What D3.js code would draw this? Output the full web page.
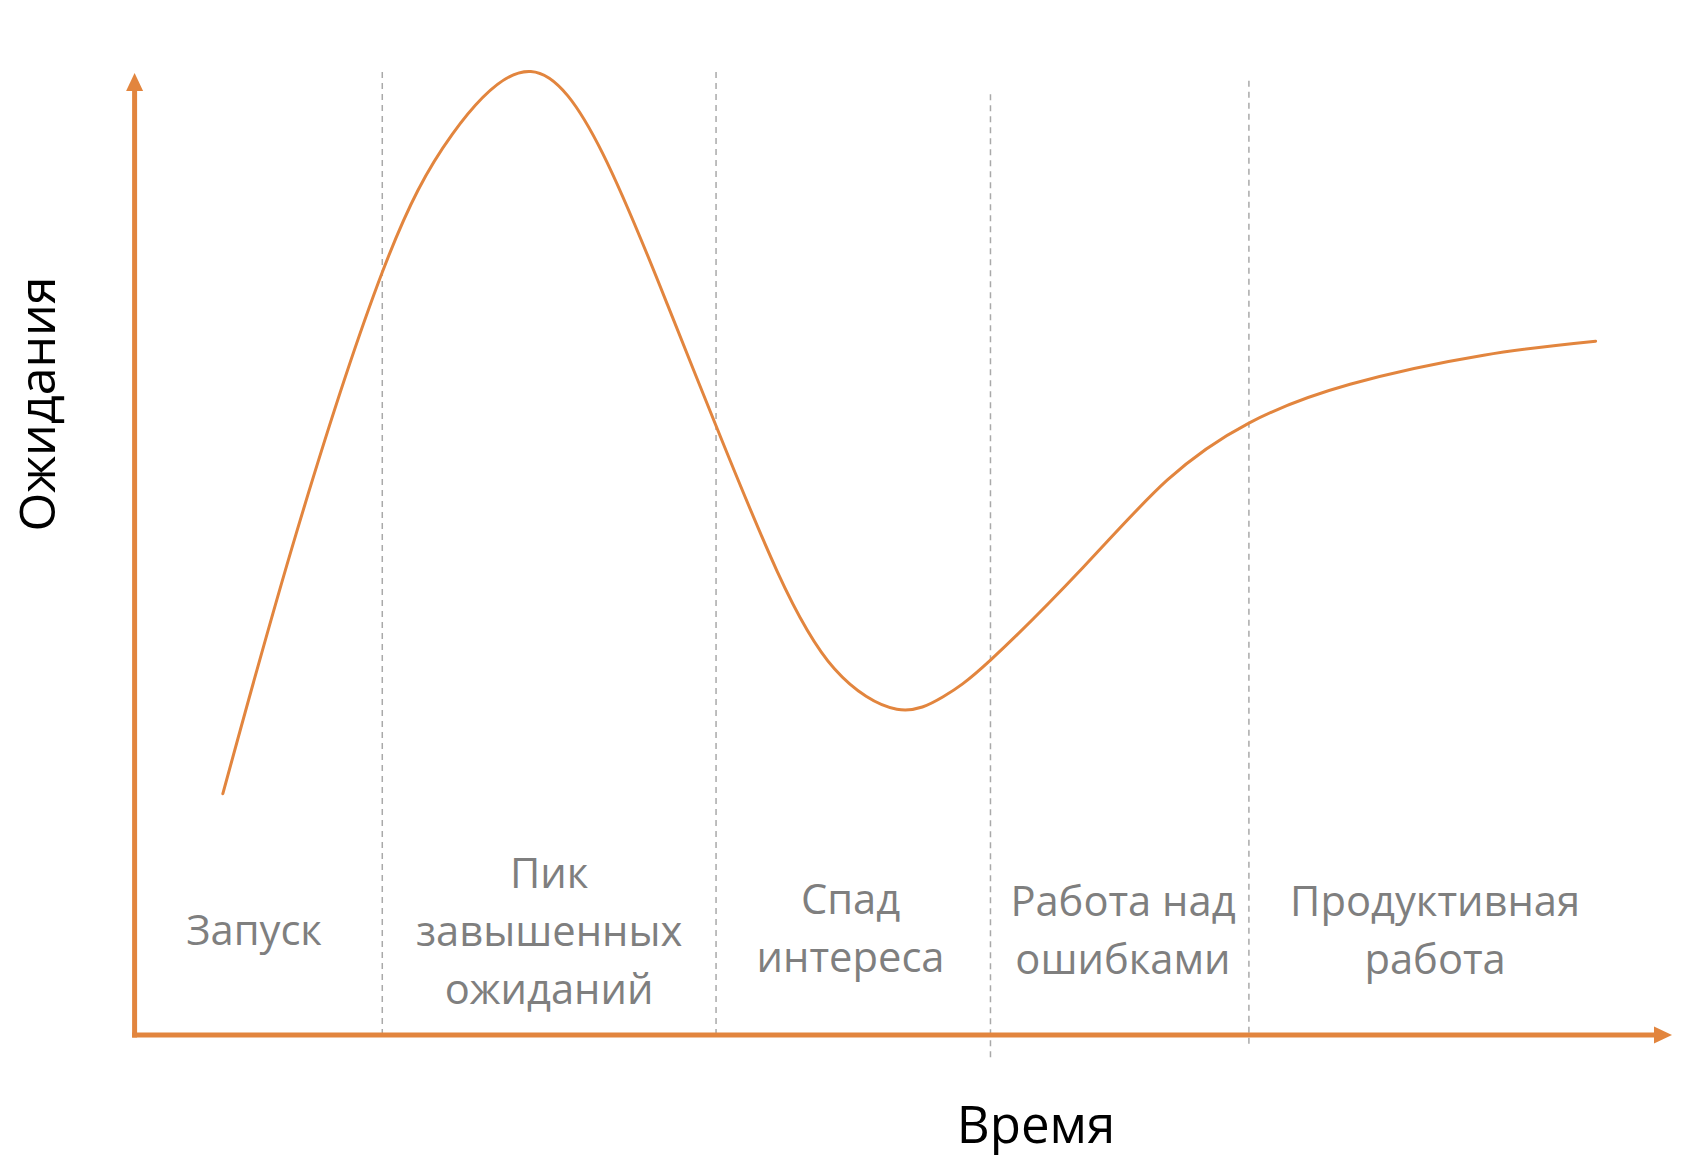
<!DOCTYPE html>
<html>
<head>
<meta charset="utf-8">
<script src="https://cdn.jsdelivr.net/npm/d3@7/dist/d3.min.js"></script>
<style>
  html, body { margin: 0; padding: 0; background: #ffffff; }
  svg { display: block; }
</style>
</head>
<body>
<svg id="chart" width="1688" height="1174"></svg>
<script>
// ---- Data (time 0–100 along the x arrow, expectations 0–100 up the y arrow) ----
const curveTime = [5.74, 10.50, 16.11, 20.66, 25.77, 30.46, 34.66, 37.89, 41.81, 45.52, 49.58, 52.59, 55.67, 61.69, 67.16, 72.48, 79.06, 87.75, 95.03];
const curveExpectation = [25.08, 52.07, 79.28, 93.62, 100.16, 91.60, 75.92, 63.05, 48.15, 38.07, 33.87, 35.16, 38.97, 48.60, 57.67, 63.61, 67.64, 70.66, 72.12];

const phaseBoundaries = [16.11, 37.82, 55.67, 72.48];
const boundaryTop = [100.1, 100.1, 97.8, 99.2];
const boundaryBottom = [0, 0, -2.7, -1.0];

const phaseNames = [
  ["Запуск"],
  ["Пик", "завышенных", "ожиданий"],
  ["Спад", "интереса"],
  ["Работа над", "ошибками"],
  ["Продуктивная", "работа"]
];
const phaseLabelTime = [7.77, 26.96, 46.57, 64.29, 84.59];
const phaseLabelCenter = [10.9, 10.8, 11.1, 10.9, 10.9]; // expectation at vertical centre of each label block

const xTitle = "Время";
const yTitle = "Ожидания";

// ---- Layout ----
const svg = d3.select("#chart");
const orange = "#E2853E";
const x = d3.scaleLinear().domain([0, 100]).range([134.6, 1672]);
const y = d3.scaleLinear().domain([0, 100]).range([1035, 73]);

// dashed phase boundaries
svg.append("g").selectAll("line")
  .data(phaseBoundaries)
  .join("line")
  .attr("x1", d => x(d)).attr("x2", d => x(d))
  .attr("y1", (d, i) => y(boundaryTop[i]))
  .attr("y2", (d, i) => y(boundaryBottom[i]))
  .attr("stroke", "#A9A9A9")
  .attr("stroke-width", 1.5)
  .attr("stroke-dasharray", "6,5");

// axes (arrows)
const axisG = svg.append("g");
const head = 18, halfW = 8.5;
axisG.append("line")
  .attr("x1", x(0)).attr("x2", x(0))
  .attr("y1", y(0) + 2.5).attr("y2", y(100) + head - 2)
  .attr("stroke", orange).attr("stroke-width", 5);
axisG.append("path")
  .attr("d", `M${x(0)},${y(100)} L${x(0) - halfW},${y(100) + head} L${x(0) + halfW},${y(100) + head} Z`)
  .attr("fill", orange);
axisG.append("line")
  .attr("x1", x(0) - 2.5).attr("x2", x(100) - head + 2)
  .attr("y1", y(0)).attr("y2", y(0))
  .attr("stroke", orange).attr("stroke-width", 5);
axisG.append("path")
  .attr("d", `M${x(100)},${y(0)} L${x(100) - head},${y(0) - halfW} L${x(100) - head},${y(0) + halfW} Z`)
  .attr("fill", orange);

// hype curve
const pts = curveTime.map((t, i) => [t, curveExpectation[i]]);
const line = d3.line()
  .x(d => x(d[0]))
  .y(d => y(d[1]))
  .curve(d3.curveNatural);
svg.append("path")
  .datum(pts)
  .attr("d", line)
  .attr("fill", "none")
  .attr("stroke", orange)
  .attr("stroke-width", 3)
  .attr("stroke-linecap", "round")
  .attr("stroke-linejoin", "round");

// phase labels
const lineH = 58;
const labels = svg.append("g")
  .attr("font-family", "'Open Sans', 'Noto Sans', sans-serif")
  .attr("font-size", 41.7)
  .attr("fill", "#7F7F7F")
  .attr("text-anchor", "middle");
phaseNames.forEach((lines, i) => {
  const cx = x(phaseLabelTime[i]);
  const cy = y(phaseLabelCenter[i]);
  const n = lines.length;
  lines.forEach((txt, j) => {
    labels.append("text")
      .attr("x", cx)
      .attr("y", cy + (j - (n - 1) / 2) * lineH)
      .attr("dy", "0.35em")
      .text(txt);
  });
});

// axis titles
svg.append("text")
  .attr("x", 1036).attr("y", 1125)
  .attr("dy", "0.35em")
  .attr("text-anchor", "middle")
  .attr("font-family", "'Open Sans', 'Noto Sans', sans-serif")
  .attr("font-size", 51)
  .attr("fill", "#000000")
  .text(xTitle);
svg.append("text")
  .attr("transform", "translate(37,404) rotate(-90)")
  .attr("dy", "0.35em")
  .attr("text-anchor", "middle")
  .attr("font-family", "'Open Sans', 'Noto Sans', sans-serif")
  .attr("font-size", 50)
  .attr("fill", "#000000")
  .text(yTitle);
</script>
</body>
</html>
